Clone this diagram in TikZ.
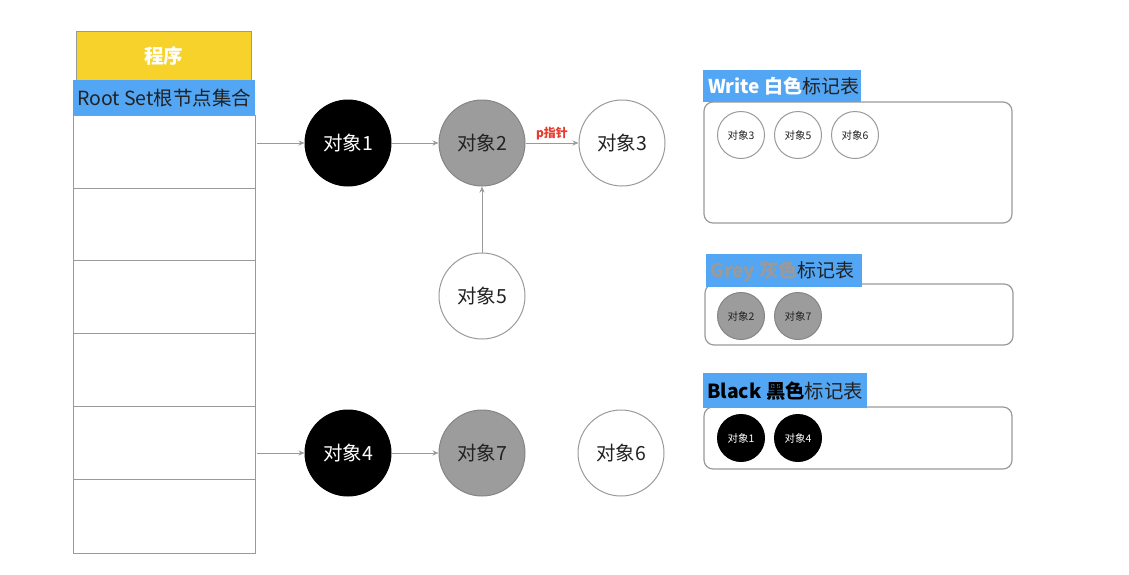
\documentclass[tikz,border=0pt]{standalone}
\usepackage{fontspec}
\setmainfont{Noto Sans CJK SC}
\usetikzlibrary{arrows.meta}
\definecolor{ylw}{HTML}{F6D22A}
\definecolor{blu}{HTML}{52A6F4}
\definecolor{lin}{HTML}{9A9A9A}
\definecolor{gfill}{HTML}{9C9C9C}
\definecolor{txt}{HTML}{222222}
\definecolor{ptr}{HTML}{E8392C}
\tikzset{
  obj/.style={circle, draw=lin, line width=1pt, minimum size=86pt, inner sep=0pt, font=\fontsize{19.5}{19.5}\selectfont, text=txt},
  sobj/.style={circle, draw=lin, line width=1pt, minimum size=47pt, inner sep=0pt, font=\fontsize{10.5}{10.5}\selectfont, text=txt},
  wht/.style={fill=white},
  gry/.style={fill=gfill, draw=gfill!85!black},
  blk/.style={fill=black, draw=black, text=white},
  conn/.style={draw=lin, line width=0.9pt, -{Stealth[length=6pt,width=5pt]}},
  panel/.style={draw=lin, line width=1.2pt, rounded corners=9pt},
  tag/.style={fill=blu, inner sep=0pt, anchor=north west, text=txt},
  cell/.style={draw=lin, line width=1pt}
}
\begin{document}
\begin{tikzpicture}[x=1pt,y=-1pt]
\useasboundingbox (0,0) rectangle (1129,574);
\fill[white] (0,0) rectangle (1129,574);
% program column
\node[fill=ylw, draw=lin, line width=0.8pt, minimum width=175pt, minimum height=49pt, inner sep=0pt, anchor=north west, text=white, font=\fontsize{19.5}{19.5}\selectfont\bfseries] (prog) at (76,31) {程序};
\node[fill=blu, minimum width=182pt, minimum height=35pt, inner sep=0pt, anchor=north west, text=txt, font=\fontsize{19.5}{19.5}\selectfont] (root) at (73,80) {Root Set根节点集合};
\foreach \i/\ya/\yb in {1/115/188, 2/188/260, 3/260/333, 4/333/406, 5/406/479, 6/479/553} {
  \draw[cell] (73,\ya) rectangle (255,\yb);
}
\coordinate (r1) at (257,143);
\coordinate (r5) at (257,453);
% objects
\node[obj, blk] (o1) at (348,143) {对象1};
\node[obj, gry] (o2) at (482,143) {对象2};
\node[obj, wht] (o3) at (622,143) {对象3};
\node[obj, wht] (o5) at (482,296) {对象5};
\node[obj, blk] (o4) at (348,453) {对象4};
\node[obj, gry] (o7) at (482,453) {对象7};
\node[obj, wht] (o6) at (621,453) {对象6};
\draw[conn] (r1) -- (o1);
\draw[conn] (o1) -- (o2);
\draw[conn] (o2) -- node[above=-1pt, text=ptr, font=\fontsize{12}{12}\selectfont\bfseries] {p指针} (o3);
\draw[conn] (o5) -- (o2);
\draw[conn] (r5) -- (o4);
\draw[conn] (o4) -- (o7);
% white panel
\draw[panel] (704,102) rectangle (1012,223);
\node[tag, minimum width=158pt, minimum height=32pt] (tw) at (703,70) {};
\node[anchor=west, inner sep=0pt, font=\fontsize{19}{19}\selectfont] (twt) at (708,86) {\textcolor{white}{\bfseries Write 白色}\textcolor{txt}{标记表}};
\node[sobj, wht] (w3) at (741,135) {对象3};
\node[sobj, wht] (w5) at (798,135) {对象5};
\node[sobj, wht] (w6) at (855,135) {对象6};
% grey panel
\draw[panel] (705,284) rectangle (1013,345);
\node[tag, minimum width=156pt, minimum height=33pt] (tg) at (706,254) {};
\node[anchor=west, inner sep=0pt, font=\fontsize{19}{19}\selectfont] (tgt) at (710,271) {\textcolor{lin}{\bfseries Grey 灰色}\textcolor{txt}{标记表}};
\node[sobj, gry] (g2) at (741,316) {对象2};
\node[sobj, gry] (g7) at (798,316) {对象7};
% black panel
\draw[panel] (704,407) rectangle (1012,469);
\node[tag, minimum width=164pt, minimum height=35pt] (tb) at (703,373) {};
\node[anchor=west, inner sep=0pt, font=\fontsize{19.4}{19.4}\selectfont] (tbt) at (707,391) {\textcolor{black}{\bfseries Black 黑色}\textcolor{txt}{标记表}};
\node[sobj, blk] (b1) at (741,438) {对象1};
\node[sobj, blk] (b4) at (798,438) {对象4};
\end{tikzpicture}
\end{document}
